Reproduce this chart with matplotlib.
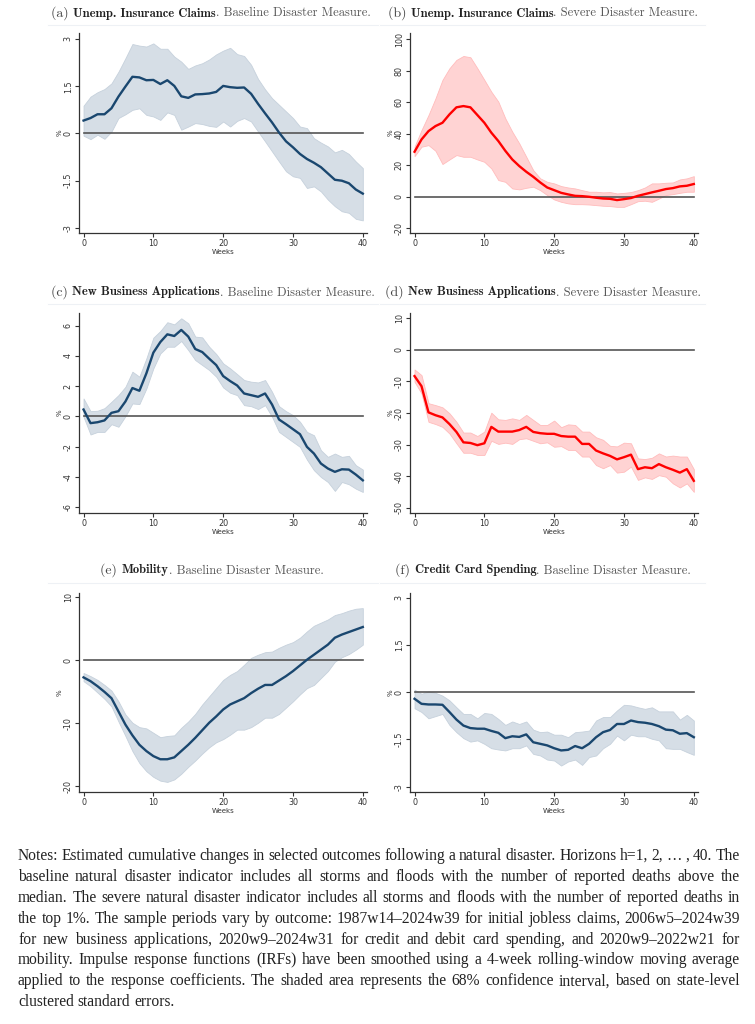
import matplotlib
matplotlib.use('Agg')
import matplotlib.pyplot as plt
import numpy as np

plt.rcParams['axes.unicode_minus'] = False

weeks = np.arange(0, 41)

# (a) unemployment claims, baseline measure
a_irf = [0.41, 0.49, 0.61, 0.61, 0.80, 1.17, 1.49, 1.80, 1.78, 1.69, 1.70, 1.57, 1.69, 1.51, 1.18, 1.13,
         1.24, 1.25, 1.27, 1.32, 1.51, 1.47, 1.45, 1.46, 1.26, 0.94, 0.64, 0.35, 0.03, -0.25, -0.44,
         -0.65, -0.81, -0.93, -1.07, -1.27, -1.47, -1.50, -1.58, -1.78, -1.91]
a_hi = [0.88, 1.17, 1.31, 1.41, 1.59, 1.96, 2.39, 2.84, 2.79, 2.76, 2.86, 2.69, 2.69, 2.44, 2.28, 2.05,
        2.16, 2.23, 2.35, 2.51, 2.63, 2.72, 2.52, 2.46, 2.18, 1.73, 1.40, 1.12, 0.91, 0.70, 0.49,
        0.22, 0.17, -0.15, -0.29, -0.41, -0.60, -0.52, -0.65, -0.89, -1.10]
a_lo = [-0.07, -0.18, -0.04, -0.17, 0.06, 0.49, 0.61, 0.75, 0.80, 0.59, 0.54, 0.43, 0.67, 0.59, 0.12, 0.22,
        0.33, 0.30, 0.24, 0.21, 0.38, 0.22, 0.40, 0.49, 0.38, 0.06, -0.25, -0.57, -0.89, -1.20, -1.36,
        -1.41, -1.73, -1.68, -1.84, -2.10, -2.31, -2.47, -2.52, -2.71, -2.76]

# (b) unemployment claims, severe measure
b_irf = [28.6, 36.4, 41.7, 44.9, 47.0, 52.3, 56.8, 57.6, 56.8, 51.9, 47.0, 40.7, 35.4, 29.2, 23.7, 19.5,
         15.9, 12.7, 9.1, 5.9, 4.2, 2.5, 1.5, 0.6, 0.4, 0.0, -0.6, -1.1, -1.3, -2.1, -1.5,
         -0.8, 0.6, 1.7, 2.8, 3.8, 4.9, 5.5, 6.6, 7.0, 8.1]
b_hi = [31.8, 42.4, 51.9, 62.5, 74.2, 81.6, 86.9, 89.4, 88.6, 81.6, 74.2, 66.7, 60.4, 49.8, 41.3, 33.9,
        25.4, 16.9, 11.7, 9.5, 8.5, 6.8, 5.9, 5.3, 4.2, 3.2, 3.2, 2.8, 3.0, 2.1, 2.5,
        3.0, 4.2, 5.9, 8.5, 8.5, 8.9, 9.1, 11.0, 11.7, 13.1]
b_lo = [25.8, 31.8, 32.8, 29.2, 20.8, 23.7, 26.5, 25.4, 25.4, 23.7, 22.2, 18.0, 10.6, 9.5, 5.3, 4.7,
        5.7, 6.4, 4.2, 1.1, -1.7, -3.2, -4.2, -4.7, -4.7, -4.9, -5.3, -5.7, -5.9, -6.4, -6.4,
        -4.7, -2.8, -2.5, -3.2, -1.1, 1.1, 1.7, 2.5, 3.2, 3.2]

# (c) new business applications, baseline measure
c_irf = [0.46, -0.44, -0.38, -0.26, 0.24, 0.35, 0.99, 1.88, 1.70, 2.85, 4.22, 4.92, 5.43, 5.32, 5.72, 5.28,
         4.46, 4.26, 3.82, 3.40, 2.67, 2.34, 2.05, 1.52, 1.41, 1.30, 1.52, 0.79, -0.20, -0.51, -0.84,
         -1.17, -2.01, -2.45, -3.11, -3.44, -3.66, -3.49, -3.51, -3.84, -4.22]
c_hi = [1.19, 0.35, 0.38, 0.55, 0.97, 1.41, 1.96, 2.96, 2.63, 3.84, 5.21, 5.65, 6.23, 6.09, 6.49, 6.16,
        5.28, 5.23, 4.61, 4.13, 3.51, 3.18, 2.80, 2.41, 2.30, 2.25, 2.41, 1.63, 0.68, 0.35, 0.09,
        -0.35, -1.02, -1.24, -2.23, -2.67, -2.45, -2.67, -2.60, -3.22, -3.51]
c_lo = [-0.02, -1.19, -1.02, -1.02, -0.51, -0.68, 0.02, 0.86, 0.82, 1.85, 3.18, 4.17, 4.61, 4.61, 4.99, 4.39,
        3.73, 3.40, 3.07, 2.63, 1.92, 1.57, 1.41, 0.75, 0.68, 0.49, 0.75, -0.02, -1.02, -1.35, -1.68,
        -2.01, -2.85, -3.55, -4.00, -4.33, -4.92, -4.33, -4.48, -4.77, -4.99]

# (d) new business applications, severe measure
d_irf = [-8.3, -11.5, -19.8, -20.7, -21.4, -23.5, -26.0, -29.3, -29.5, -30.2, -29.6, -24.4, -25.9, -25.9,
         -25.9, -25.4, -24.4, -26.0, -26.4, -26.6, -26.6, -27.3, -27.5, -27.5, -29.8, -29.8, -31.9,
         -32.8, -33.6, -34.7, -34.0, -33.2, -37.8, -37.2, -37.5, -36.2, -37.2, -38.0, -38.9, -37.8, -41.5]
d_hi = [-6.2, -8.0, -16.9, -17.5, -18.2, -20.1, -22.8, -26.2, -26.2, -27.3, -25.9, -19.9, -22.0, -22.2,
        -21.7, -22.2, -20.6, -22.2, -23.8, -23.8, -22.4, -24.5, -23.6, -23.8, -25.9, -25.9, -27.7,
        -28.5, -30.4, -30.6, -29.4, -29.6, -34.4, -34.6, -34.2, -32.8, -33.8, -33.5, -33.8, -33.8, -37.8]
d_lo = [-10.1, -13.8, -22.8, -23.5, -24.4, -26.5, -29.6, -32.6, -32.6, -33.3, -33.3, -28.8, -29.8, -29.4,
        -29.8, -28.3, -28.0, -28.8, -29.6, -29.3, -30.7, -30.5, -31.7, -31.7, -33.8, -33.8, -36.5,
        -37.5, -36.5, -38.9, -38.6, -37.0, -41.2, -40.4, -40.9, -39.7, -40.2, -42.3, -43.6, -42.3, -45.0]

# (e) mobility, baseline measure
e_irf = [-2.7, -3.3, -4.1, -5.0, -6.0, -8.1, -10.2, -11.9, -13.4, -14.4, -15.2, -15.7, -15.7, -15.4,
         -14.4, -13.4, -12.3, -11.1, -9.9, -8.9, -7.8, -7.0, -6.5, -6.0, -5.2, -4.5, -3.9, -3.9, -3.2,
         -2.5, -1.7, -0.8, 0.1, 0.9, 1.7, 2.5, 3.6, 4.1, 4.5, 4.9, 5.3]
e_hi = [-2.0, -2.5, -3.1, -3.9, -4.8, -6.5, -8.6, -9.9, -10.6, -10.8, -11.5, -12.2, -12.0, -11.9,
        -10.7, -9.7, -8.5, -7.0, -5.7, -4.4, -3.1, -2.3, -1.7, -0.7, 0.4, 0.9, 1.3, 1.4, 2.0,
        2.5, 2.9, 3.6, 4.6, 5.5, 6.0, 6.5, 7.2, 7.5, 7.9, 8.2, 8.3]
e_lo = [-3.3, -4.1, -5.1, -6.1, -7.3, -9.7, -12.0, -14.4, -16.3, -17.6, -18.5, -19.1, -19.3, -18.9,
        -18.0, -16.9, -15.9, -14.8, -13.8, -13.0, -12.5, -11.8, -11.0, -11.0, -10.6, -9.9, -9.1, -9.1,
        -8.5, -7.5, -6.5, -5.4, -4.4, -3.9, -2.8, -1.7, -0.2, 0.5, 1.0, 1.7, 2.5]

# (f) credit card spending, baseline measure
f_irf = [-0.21, -0.37, -0.39, -0.39, -0.40, -0.63, -0.87, -1.06, -1.14, -1.16, -1.16, -1.23, -1.29, -1.46,
         -1.40, -1.42, -1.34, -1.59, -1.64, -1.69, -1.78, -1.85, -1.83, -1.71, -1.78, -1.64, -1.43,
         -1.27, -1.20, -1.01, -1.01, -0.90, -0.95, -0.97, -1.01, -1.08, -1.19, -1.21, -1.32, -1.30, -1.43]
f_hi = [0.08, -0.05, 0.02, -0.02, -0.11, -0.26, -0.48, -0.69, -0.69, -0.83, -0.66, -0.69, -0.85, -1.04,
        -0.93, -1.01, -0.93, -1.19, -1.27, -1.25, -1.35, -1.35, -1.43, -1.27, -1.25, -1.22, -0.90,
        -0.79, -0.79, -0.58, -0.40, -0.42, -0.48, -0.53, -0.48, -0.61, -0.61, -0.61, -0.87, -0.72, -0.90]
f_lo = [-0.51, -0.63, -0.83, -0.76, -0.69, -1.04, -1.27, -1.46, -1.57, -1.53, -1.64, -1.78, -1.82, -1.85,
        -1.78, -1.78, -1.69, -1.96, -2.01, -2.14, -2.17, -2.33, -2.20, -2.14, -2.31, -2.06, -2.01,
        -1.78, -1.64, -1.38, -1.53, -1.35, -1.40, -1.40, -1.48, -1.53, -1.78, -1.80, -1.80, -1.90, -1.99]

letters = ['a', 'b', 'c', 'd', 'e', 'f']
outcomes = ['Unemp. Insurance Claims', 'Unemp. Insurance Claims', 'New Business Applications',
            'New Business Applications', 'Mobility', 'Credit Card Spending']
measures = ['Baseline Disaster Measure.', 'Severe Disaster Measure.', 'Baseline Disaster Measure.',
            'Severe Disaster Measure.', 'Baseline Disaster Measure.', 'Baseline Disaster Measure.']
yticks = [[-3, -1.5, 0, 1.5, 3], [-20, 0, 20, 40, 60, 80, 100], [-6, -4, -2, 0, 2, 4, 6],
          [-50, -40, -30, -20, -10, 0, 10], [-20, -10, 0, 10], [-3, -1.5, 0, 1.5, 3]]
ytlabels = [['-3', '-1.5', '0', '1.5', '3'], ['-20', '0', '20', '40', '60', '80', '100'],
            ['-6', '-4', '-2', '0', '2', '4', '6'], ['-50', '-40', '-30', '-20', '-10', '0', '10'],
            ['-20', '-10', '0', '10'], ['-3', '-1.5', '0', '1.5', '3']]
series = [(a_irf, a_lo, a_hi), (b_irf, b_lo, b_hi), (c_irf, c_lo, c_hi),
          (d_irf, d_lo, d_hi), (e_irf, e_lo, e_hi), (f_irf, f_lo, f_hi)]
severe = [False, True, False, True, False, False]

notes_lines = [
    "Notes: Estimated cumulative changes in selected outcomes following a natural disaster. Horizons h=1, 2, \u2026 , 40. The",
    "baseline natural disaster indicator includes all storms and floods with the number of reported deaths above the",
    "median. The severe natural disaster indicator includes all storms and floods with the number of reported deaths in",
    "the top 1%. The sample periods vary by outcome: 1987w14\u20132024w39 for initial jobless claims, 2006w5\u20132024w39",
    "for new business applications, 2020w9\u20132024w31 for credit and debit card spending, and 2020w9\u20132022w21 for",
    "mobility. Impulse response functions (IRFs) have been smoothed using a 4-week rolling-window moving average",
    "applied to the response coefficients. The shaded area represents the 68% confidence interval, based on state-level",
    "clustered standard errors.",
]

W, H = 755, 1024
fig = plt.figure(figsize=(W / 100, H / 100), dpi=100)
renderer = fig.canvas.get_renderer()

# pixel boxes (left, top, right, bottom) and y limits
boxes = [(79, 33, 367, 233), (410, 33, 698, 233), (79, 313, 367, 513),
         (410, 313, 698, 513), (79, 593, 367, 792), (410, 593, 698, 792)]
ylims = [(-3.16, 3.19), (-23, 104), (-6.38, 6.84), (-51.7, 11.7), (-20.9, 10.7), (-3.17, 3.15)]
title_pos = [(211, 13), (543, 13), (213, 292), (543, 292), (212, 570), (543, 570)]

navy = '#1a476f'
for i in range(6):
    l, t, r, b = boxes[i]
    ax = fig.add_axes([l / W, 1 - b / H, (r - l) / W, (b - t) / H])
    irf, lo, hi = series[i]
    if severe[i]:
        ax.fill_between(weeks, lo, hi, color='#ffd3d3', edgecolor='#ffbcbc', lw=0.6, zorder=1)
        ax.plot(weeks, irf, color='#ff0000', lw=1.7, zorder=3)
    else:
        ax.fill_between(weeks, lo, hi, color='#d6dee6', edgecolor='#c6d1dc', lw=0.6, zorder=1)
        ax.plot(weeks, irf, color=navy, lw=1.7, zorder=3)
    ax.plot([0, 40], [0, 0], color='#555555', lw=1.2, zorder=2)
    ax.set_xlim(-0.65, 40.6)
    ax.set_ylim(*ylims[i])
    ax.set_xticks([0, 10, 20, 30, 40])
    ax.set_yticks(yticks[i])
    ax.set_yticklabels(ytlabels[i], rotation=90, va='center')
    for s in ['top', 'right']:
        ax.spines[s].set_visible(False)
    for s in ['left', 'bottom']:
        ax.spines[s].set_color('#333333')
        ax.spines[s].set_linewidth(0.9)
    ax.tick_params(length=3, width=0.8, color='#333333', labelsize=5.8, labelcolor='#333333', pad=1.5)
    ax.set_xlabel('Weeks', fontsize=5, color='#333333', labelpad=0.5)
    ax.set_ylabel('%', fontsize=5, color='#333333', labelpad=1)

    # title pieces: "(x)" slightly larger, bold outcome, regular measure
    pieces = [('(' + letters[i] + ') ', 'cmr10', 10, '#444444'),
              (outcomes[i], 'cmb10', 9, '#222222'),
              ('. ' + measures[i], 'cmr10', 9, '#555555')]
    tx, ty = title_pos[i]
    objs = [fig.text(0, 1 - (ty + 3.5) / H, p, family=fam, fontsize=fs, color=c, va='baseline')
            for p, fam, fs, c in pieces]
    ws = [o.get_window_extent(renderer).width for o in objs]
    x = tx - sum(ws) / 2
    for o, w in zip(objs, ws):
        o.set_x(x / W)
        x += w

# faint separators under the titles
for y in [25, 304, 583]:
    fig.add_artist(plt.Line2D([48 / W, 378 / W], [1 - y / H, 1 - y / H], color='#eef1f5', lw=0.8))
    fig.add_artist(plt.Line2D([380 / W, 705 / W], [1 - y / H, 1 - y / H], color='#eef1f5', lw=0.8))

# justified notes paragraph
x0, x1 = 18, 740
base = 10.0
measured = []
for line in notes_lines:
    words = line.split(' ')
    tmp = [fig.text(0, 0, w, family='Liberation Serif', fontsize=base) for w in words]
    measured.append([tt.get_window_extent(renderer).width for tt in tmp])
    for tt in tmp:
        tt.remove()
# largest size where every justified line keeps a gap of at least 0.22 em
size = 11.6
for wl in measured[:-1]:
    px_per_pt = 100 / 72
    need = sum(wl) / base + 0.22 * px_per_pt * (len(wl) - 1)
    size = min(size, (x1 - x0) / need)

for k, line in enumerate(notes_lines):
    y = 860 + k * 20.9
    words = line.split(' ')
    texts = [fig.text(0, 1 - y / H, w, family='Liberation Serif', fontsize=size, color='#222222',
                      va='baseline', ha='left') for w in words]
    widths = [tt.get_window_extent(renderer).width for tt in texts]
    if k == len(notes_lines) - 1:
        gap = 0.25 * size * 100 / 72
    else:
        gap = (x1 - x0 - sum(widths)) / (len(words) - 1)
    x = x0
    for tt, wd in zip(texts, widths):
        tt.set_x(x / W)
        x += wd + gap

fig.savefig('out.png', dpi=100)
